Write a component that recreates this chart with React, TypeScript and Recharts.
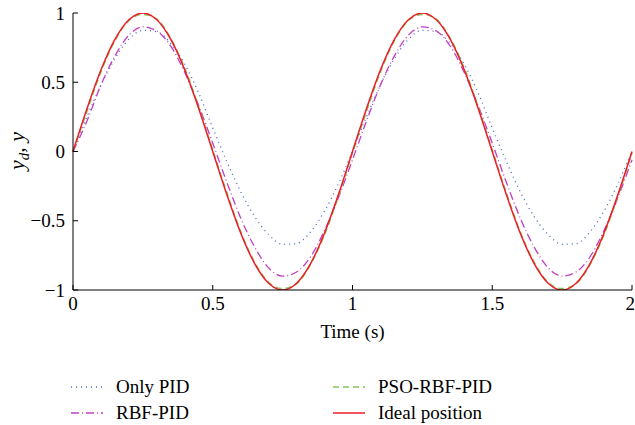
import { LineChart, Line, XAxis, YAxis, Legend } from 'recharts';

const F = '"Liberation Serif", "DejaVu Serif", serif';

const times = [
  0, 0.05, 0.1, 0.15, 0.2, 0.25, 0.3, 0.35, 0.4, 0.45, 0.5, 0.55, 0.6, 0.65, 0.7, 0.75, 0.8, 0.85, 0.9, 0.95,
  1, 1.05, 1.1, 1.15, 1.2, 1.25, 1.3, 1.35, 1.4, 1.45, 1.5, 1.55, 1.6, 1.65, 1.7, 1.75, 1.8, 1.85, 1.9, 1.95, 2,
];

const onlyPid = [
  0, 0.25, 0.48, 0.67, 0.81, 0.875, 0.865, 0.78, 0.63, 0.42, 0.17, -0.07, -0.29, -0.47, -0.6, -0.67, -0.665, -0.58, -0.43, -0.23,
  0, 0.25, 0.48, 0.67, 0.81, 0.875, 0.865, 0.78, 0.63, 0.42, 0.17, -0.07, -0.29, -0.47, -0.6, -0.67, -0.665, -0.58, -0.43, -0.23, 0,
];

const rbfPid = [
  0, 0.22, 0.48, 0.69, 0.84, 0.9, 0.87, 0.76, 0.57, 0.33, 0.06, -0.22, -0.48, -0.69, -0.84, -0.9, -0.87, -0.76, -0.57, -0.33,
  -0.06, 0.22, 0.48, 0.69, 0.84, 0.9, 0.87, 0.76, 0.57, 0.33, 0.06, -0.22, -0.48, -0.69, -0.84, -0.9, -0.87, -0.76, -0.57, -0.33, -0.06,
];

const psoRbfPid = [
  0, 0.29, 0.575, 0.8, 0.945, 0.99, 0.955, 0.815, 0.6, 0.32, 0.01, -0.295, -0.58, -0.8, -0.945, -0.99, -0.955, -0.815, -0.6, -0.32,
  -0.01, 0.29, 0.575, 0.8, 0.945, 0.99, 0.955, 0.815, 0.6, 0.32, 0.01, -0.295, -0.58, -0.8, -0.945, -0.99, -0.955, -0.815, -0.6, -0.32, -0.01,
];

const ideal = [
  0, 0.309, 0.588, 0.809, 0.951, 1, 0.951, 0.809, 0.588, 0.309, 0, -0.309, -0.588, -0.809, -0.951, -1, -0.951, -0.809, -0.588, -0.309,
  0, 0.309, 0.588, 0.809, 0.951, 1, 0.951, 0.809, 0.588, 0.309, 0, -0.309, -0.588, -0.809, -0.951, -1, -0.951, -0.809, -0.588, -0.309, 0,
];

const xTicks = [0, 0.5, 1, 1.5, 2];
const yTicks = [-1, -0.5, 0, 0.5, 1];

const data = times.map((t, i) => ({
  t,
  pid: onlyPid[i],
  rbf: rbfPid[i],
  pso: psoRbfPid[i],
  ideal: ideal[i],
}));

const C_PID = '#4a66c8';
const C_RBF = '#c23fc2';
const C_PSO = '#84c45a';
const C_IDEAL = '#ee1c24';

const fmt = (v: number) => String(v).replace('-', '\u2212');

const YLabel = () => (
  <text transform="translate(24,151) rotate(-90)" textAnchor="middle" fontFamily={F} fontSize={22} fill="#000">
    <tspan fontStyle="italic">y</tspan>
    <tspan fontStyle="italic" fontSize={15} dy={5}>d</tspan>
    <tspan dy={-5}>, </tspan>
    <tspan fontStyle="italic">y</tspan>
  </text>
);

const LegendBox = () => {
  const row1 = 15;
  const row2 = 41;
  const txt = { fontFamily: F, fontSize: 19, fill: '#000' };
  return (
    <svg width={635} height={52}>
      <line x1={71} x2={103} y1={row1} y2={row1} stroke={C_PID} strokeWidth={1.3} strokeDasharray="1 4" />
      <text x={116} y={row1 + 6} {...txt}>Only PID</text>
      <line x1={71} x2={103} y1={row2} y2={row2} stroke={C_RBF} strokeWidth={1.3} strokeDasharray="8 3 1 3" />
      <text x={116} y={row2 + 6} {...txt}>RBF-PID</text>
      <line x1={333} x2={365} y1={row1} y2={row1} stroke={C_PSO} strokeWidth={1.5} strokeDasharray="6 4" />
      <text x={378} y={row1 + 6} {...txt}>PSO-RBF-PID</text>
      <line x1={333} x2={365} y1={row2} y2={row2} stroke={C_IDEAL} strokeWidth={1.5} />
      <text x={378} y={row2 + 6} {...txt}>Ideal position</text>
    </svg>
  );
};

export default function App() {
  const tick = { fontSize: 19, fill: '#000', fontFamily: F };
  return (
    <div style={{ position: 'absolute', left: 0, top: 0, background: '#fff' }}>
      <LineChart
        width={635}
        height={425}
        data={data}
        margin={{ top: 13, right: 3, left: 0, bottom: 75 }}
        style={{ fontFamily: F }}
      >
        <XAxis
          dataKey="t"
          type="number"
          domain={[0, 2]}
          ticks={xTicks}
          tickFormatter={fmt}
          tick={tick}
          tickSize={-5}
          tickMargin={12}
          height={60}
          stroke="#000"
          label={{ value: 'Time (s)', position: 'insideBottom', offset: 12, fontSize: 19, fill: '#000', fontFamily: F }}
        />
        <XAxis
          xAxisId="top"
          orientation="top"
          type="number"
          domain={[0, 2]}
          ticks={xTicks}
          tick={false}
          tickSize={-5}
          height={0}
          stroke="#000"
        />
        <YAxis
          type="number"
          domain={[-1, 1]}
          ticks={yTicks}
          tickFormatter={fmt}
          tick={tick}
          tickSize={-5}
          tickMargin={13}
          width={73}
          stroke="#000"
          allowDataOverflow
          label={<YLabel />}
        />
        <YAxis
          yAxisId="right"
          orientation="right"
          type="number"
          domain={[-1, 1]}
          ticks={yTicks}
          tick={false}
          tickSize={-5}
          width={0}
          stroke="#000"
        />
        <Legend
          layout="horizontal"
          verticalAlign="middle"
          align="center"
          content={<LegendBox />}
          wrapperStyle={{ top: 372, left: 0, width: 635 }}
        />
        <Line dataKey="pid" type="monotone" stroke={C_PID} strokeWidth={1.3} strokeDasharray="1 4" dot={false} isAnimationActive={false} />
        <Line dataKey="rbf" type="monotone" stroke={C_RBF} strokeWidth={1.3} strokeDasharray="8 3 1 3" dot={false} isAnimationActive={false} />
        <Line dataKey="pso" type="monotone" stroke={C_PSO} strokeWidth={1.5} strokeDasharray="6 4" dot={false} isAnimationActive={false} />
        <Line dataKey="ideal" type="monotone" stroke={C_IDEAL} strokeWidth={1.5} dot={false} isAnimationActive={false} />
      </LineChart>
    </div>
  );
}
